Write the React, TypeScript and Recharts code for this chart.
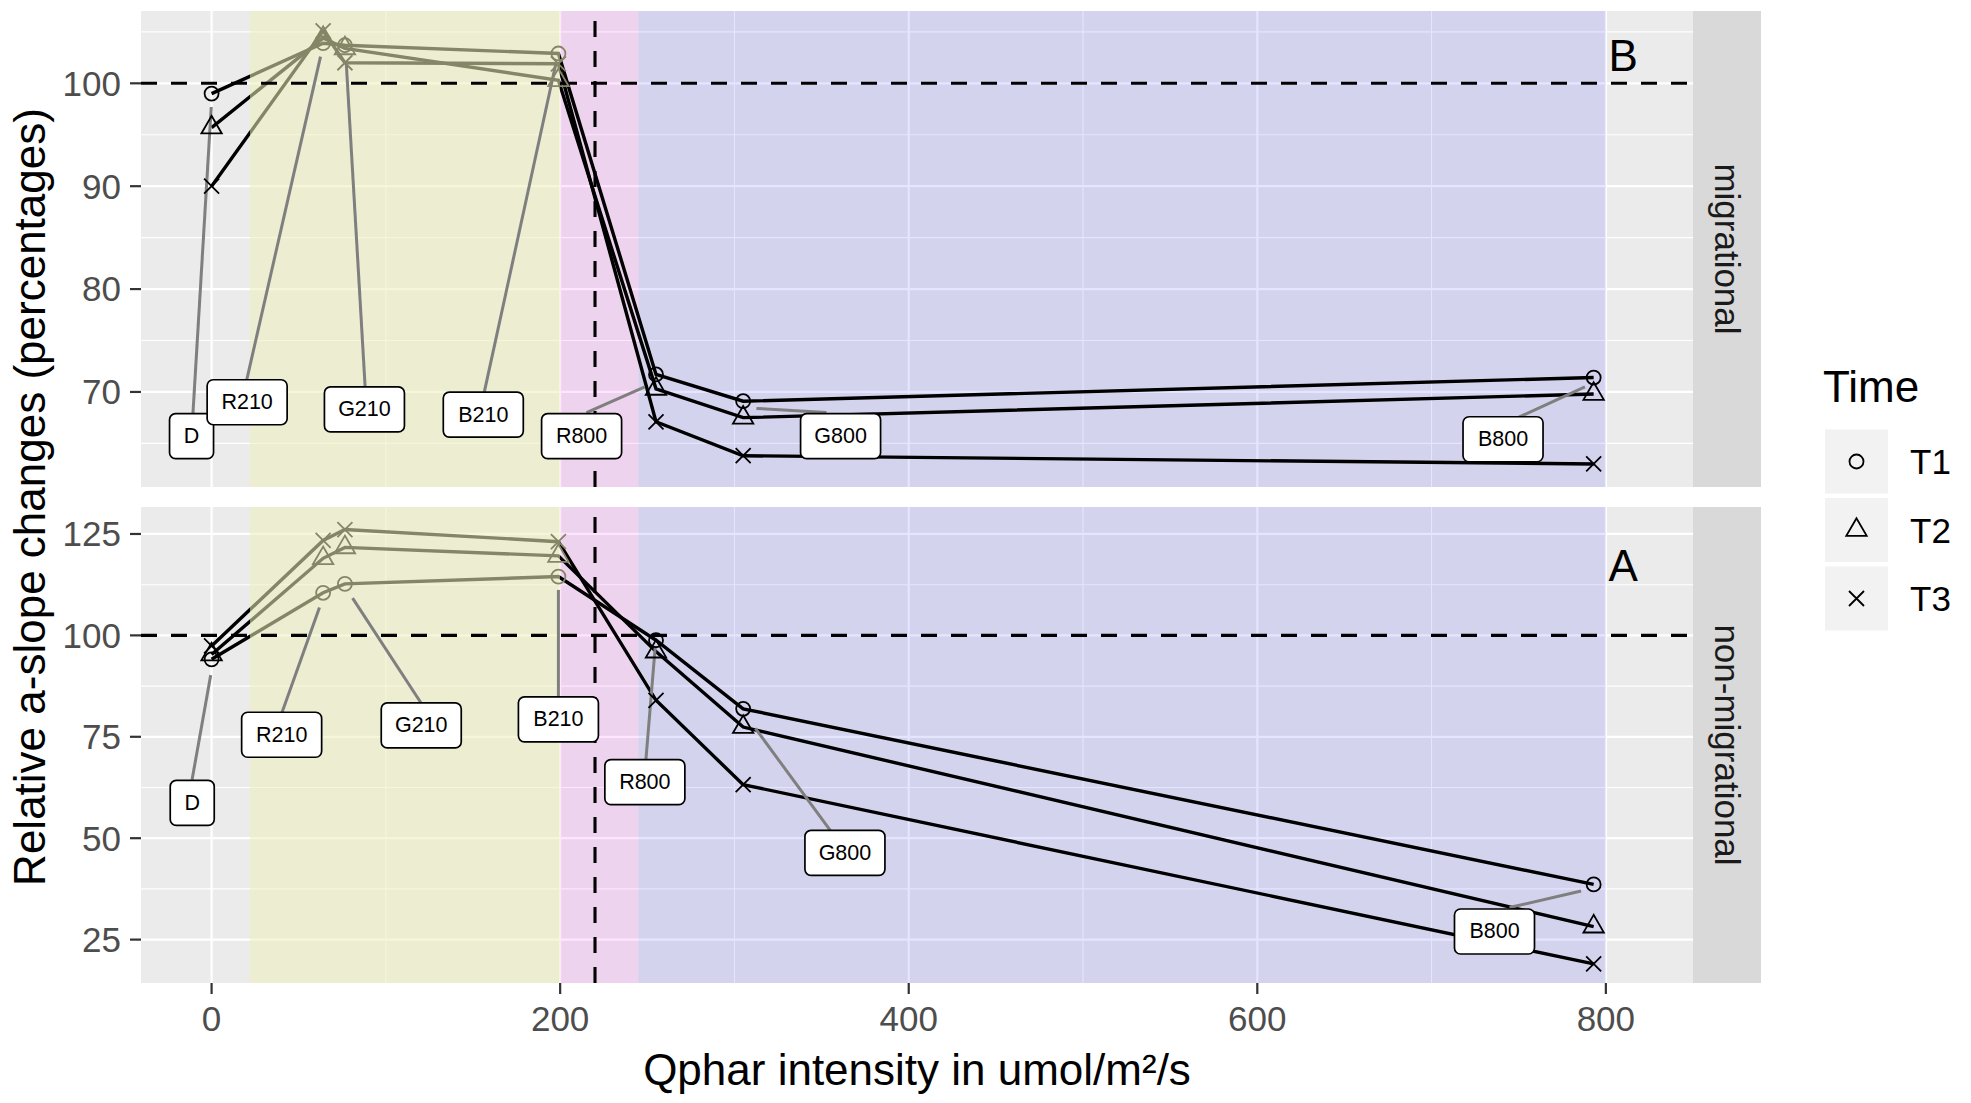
import React from 'react'
import {
  LineChart, Line, XAxis, YAxis, CartesianGrid,
  ReferenceArea, ReferenceLine, ReferenceDot,
} from 'recharts'

// Qphar intensity of each light step (umol/m²/s)
const qphar = [0, 64, 76.5, 199, 255, 305, 793]
const steps = ['D', 'R210', 'G210', 'B210', 'R800', 'G800', 'B800']
const times = ['T1', 'T2', 'T3']

// migrational (B)
const migT1 = [99.0, 103.9, 103.7, 102.9, 71.7, 69.1, 71.4]
const migT2 = [95.7, 104.4, 103.4, 100.3, 70.3, 67.5, 69.8]
const migT3 = [90.0, 105.1, 102.0, 101.9, 67.1, 63.8, 63.0]

// non-migrational (A)
const nonT1 = [94.1, 110.5, 112.7, 114.5, 98.8, 81.9, 38.6]
const nonT2 = [95.3, 119.0, 121.7, 119.6, 96.0, 77.4, 28.2]
const nonT3 = [97.4, 123.4, 126.1, 123.1, 84.0, 63.2, 19.0]

const xTicks = [0, 200, 400, 600, 800]
const xMinor = [100, 300, 500, 700]
const migTicks = [70, 80, 90, 100]
const migMinor = [65, 75, 85, 95, 105]
const nonTicks = [25, 50, 75, 100, 125]
const nonMinor = [37.5, 62.5, 87.5, 112.5]

// light bands along x
const yellowBand = [22, 200]
const pinkBand = [200, 245]
const blueBand = [245, 800]

// repelled step labels: box centre, leader start, leader end (data units)
const migBox = [[-11.5, 65.7], [20.4, 69.0], [87.7, 68.3], [155.9, 67.8], [212.3, 65.7], [360.9, 65.7], [741, 65.4]]
const migFrom = [[-10.7, 67.9], [20.2, 71.2], [88.1, 70.5], [156.5, 70.0], [215.1, 68.0], [352.8, 68.0], [748.2, 67.4]]
const migTo = [[-0.2, 97.7], [62.5, 102.6], [77.3, 101.9], [197.4, 101.8], [248.6, 70.5], [312.6, 68.4], [788, 70.5]]

const nonBox = [[-11.1, 58.7], [40.2, 75.5], [120.3, 77.8], [199, 79.3], [248.6, 63.8], [363.4, 46.4], [736.1, 27.0]]
const nonFrom = [[-11.2, 64.4], [40.4, 81.0], [120.1, 83.4], [199, 84.8], [249.2, 69.3], [355.5, 51.6], [744.7, 32.9]]
const nonTo = [[-0.5, 90.2], [61.9, 106.9], [80.9, 109.2], [199, 111.2], [254.5, 96.9], [312, 77.1], [785.8, 37.0]]

const FONT = "'Liberation Sans', Arial, sans-serif"
const OLIVE = '#858567'

// the yellow band sits over the lines in the original, tinting them olive
const inYellow = (q: number) => q > yellowBand[0] && q < yellowBand[1]
const qMin = Math.min(...qphar)
const qMax = Math.max(...qphar)
const frac = (q: number) => (q - qMin) / (qMax - qMin)

function Marker({ kind, cx, cy, color = '#000' }: { kind: string; cx: number; cy: number; color?: string }) {
  if (kind === 'T1') {
    return <circle cx={cx} cy={cy} r={7} fill="none" stroke={color} strokeWidth={1.8} />
  }
  if (kind === 'T2') {
    return (
      <polygon
        points={`${cx},${cy - 11.7} ${cx - 10.2},${cy + 5.9} ${cx + 10.2},${cy + 5.9}`}
        fill="none" stroke={color} strokeWidth={1.8}
      />
    )
  }
  return (
    <path
      d={`M${cx - 7.5},${cy - 7.5}L${cx + 7.5},${cy + 7.5}M${cx - 7.5},${cy + 7.5}L${cx + 7.5},${cy - 7.5}`}
      stroke={color} strokeWidth={1.8}
    />
  )
}

const dotFor = (kind: string) => (p: any) => (
  <g key={`${kind}-${p.index}`}>
    <Marker kind={kind} cx={p.cx} cy={p.cy} color={inYellow(p.payload?.q) ? OLIVE : '#000'} />
  </g>
)

const labelBox = (name: string) => (p: any) => {
  const w = name.length === 1 ? 44 : 80
  const h = 45
  return (
    <g>
      <rect x={p.cx - w / 2} y={p.cy - h / 2} width={w} height={h} rx={6}
        fill="#fff" stroke="#000" strokeWidth={1.7} />
      <text x={p.cx} y={p.cy} textAnchor="middle" dominantBaseline="central"
        fontSize={21.5} fill="#000" fontFamily={FONT}>{name}</text>
    </g>
  )
}

const tagText = (t: string) => (p: any) => (
  <text x={p.cx} y={p.cy} textAnchor="middle" dominantBaseline="central"
    fontSize={44} fill="#000" fontFamily={FONT}>{t}</text>
)

interface PanelProps {
  t1: number[]; t2: number[]; t3: number[]
  yDomain: [number, number]
  yTicks: number[]; yMinor: number[]
  box: number[][]; from: number[][]; to: number[][]
  tag: string; tagY: number
  showX: boolean
  top: number; height: number
}

function Panel(props: PanelProps) {
  const { t1, t2, t3, yDomain, yTicks, yMinor, box, from, to, tag, tagY, showX, top, height } = props
  const data = qphar.map((q, i) => ({ q, T1: t1[i], T2: t2[i], T3: t3[i] }))
  const tickStyle = { fill: '#4D4D4D', fontSize: 35, fontFamily: FONT }
  const dash = '16 14'
  return (
    <div style={{ position: 'absolute', left: 0, top }}>
      <LineChart width={1700} height={height} data={data}
        margin={{ top: 11, right: 7, bottom: 0, left: 0 }}>
        <CartesianGrid fill="#EBEBEB" stroke="#FFFFFF" strokeWidth={2.2}
          horizontalValues={yTicks} verticalValues={xTicks} />
        <CartesianGrid stroke="#FFFFFF" strokeWidth={1.1}
          horizontalValues={yMinor} verticalValues={xMinor} />
        <XAxis dataKey="q" type="number" domain={[-40.5, 850]} ticks={xTicks}
          allowDataOverflow hide={!showX} interval={0}
          tick={tickStyle} tickSize={11} tickMargin={12}
          tickLine={{ stroke: '#333333', strokeWidth: 2.2 }} axisLine={false} height={60} />
        <YAxis type="number" domain={yDomain} ticks={yTicks} allowDataOverflow interval={0}
          width={141} tick={tickStyle} tickSize={11} tickMargin={9}
          tickLine={{ stroke: '#333333', strokeWidth: 2.2 }} axisLine={false} />
        <ReferenceArea x1={yellowBand[0]} x2={yellowBand[1]} fill="#EFEFBE" fillOpacity={0.557} />
        <ReferenceArea x1={pinkBand[0]} x2={pinkBand[1]} fill="#FF00FF" fillOpacity={0.1} />
        <ReferenceArea x1={blueBand[0]} x2={blueBand[1]} fill="#0000FF" fillOpacity={0.1} />
        {times.map((k) => (
          <Line key={k} dataKey={k} type="linear" stroke="url(#yellowTint)" strokeWidth={3.4}
            dot={dotFor(k)} activeDot={false} isAnimationActive={false} />
        ))}
        <ReferenceLine y={100} stroke="#000" strokeWidth={3.1} strokeDasharray={dash} />
        <ReferenceLine x={220} stroke="#000" strokeWidth={3.1} strokeDasharray={dash} />
        {steps.map((s, i) => (
          <ReferenceLine key={`seg-${s}`} stroke="#7F7F7F" strokeWidth={3}
            segment={[{ x: from[i][0], y: from[i][1] }, { x: to[i][0], y: to[i][1] }]} />
        ))}
        {steps.map((s, i) => (
          <ReferenceDot key={`lab-${s}`} x={box[i][0]} y={box[i][1]} r={1}
            shape={labelBox(s)} />
        ))}
        <ReferenceDot x={810} y={tagY} r={1} shape={tagText(tag)} />
      </LineChart>
    </div>
  )
}

function Overlay() {
  const a = frac(yellowBand[0])
  const b = frac(yellowBand[1])
  return (
    <svg width={1971} height={1103}
      style={{ position: 'absolute', left: 0, top: 0, pointerEvents: 'none', fontFamily: FONT }}>
      <defs>
        <linearGradient id="yellowTint" x1="0" y1="0" x2="1" y2="0">
          <stop offset={0} stopColor="#000" />
          <stop offset={a} stopColor="#000" />
          <stop offset={a} stopColor={OLIVE} />
          <stop offset={b} stopColor={OLIVE} />
          <stop offset={b} stopColor="#000" />
          <stop offset={1} stopColor="#000" />
        </linearGradient>
      </defs>
      <text x={29} y={497} transform="rotate(-90 29 497)" textAnchor="middle"
        dominantBaseline="central" fontSize={44} fill="#000">
        Relative a-slope changes (percentages)
      </text>
      <text x={917} y={1069} textAnchor="middle" dominantBaseline="central" fontSize={44} fill="#000">
        Qphar intensity in umol/m²/s
      </text>
      <rect x={1693} y={11} width={68} height={476} fill="#D9D9D9" />
      <rect x={1693} y={507} width={68} height={476} fill="#D9D9D9" />
      <text x={1727} y={249} transform="rotate(90 1727 249)" textAnchor="middle"
        dominantBaseline="central" fontSize={35} fill="#1A1A1A">migrational</text>
      <text x={1727} y={745} transform="rotate(90 1727 745)" textAnchor="middle"
        dominantBaseline="central" fontSize={35} fill="#1A1A1A">non-migrational</text>
      <text x={1823} y={402} fontSize={44} fill="#000">Time</text>
      {times.map((k, i) => {
        const cy = 461.5 + i * 68.5
        return (
          <g key={k}>
            <rect x={1825} y={cy - 32} width={63} height={64} fill="#F2F2F2" />
            <Marker kind={k} cx={1856.5} cy={cy} />
            <text x={1910} y={cy} dominantBaseline="central" fontSize={35} fill="#000">{k}</text>
          </g>
        )
      })}
    </svg>
  )
}

export default function App() {
  return (
    <div style={{ position: 'absolute', left: 0, top: 0, width: 1971, height: 1103,
      background: '#fff', fontFamily: FONT }}>
      <Panel t1={migT1} t2={migT2} t3={migT3} yDomain={[60.76, 107.03]}
        yTicks={migTicks} yMinor={migMinor} box={migBox} from={migFrom} to={migTo}
        tag="B" tagY={102.7} showX={false} top={0} height={487} />
      <Panel t1={nonT1} t2={nonT2} t3={nonT3} yDomain={[14.3, 131.65]}
        yTicks={nonTicks} yMinor={nonMinor} box={nonBox} from={nonFrom} to={nonTo}
        tag="A" tagY={117.2} showX top={496} height={547} />
      <Overlay />
    </div>
  )
}
